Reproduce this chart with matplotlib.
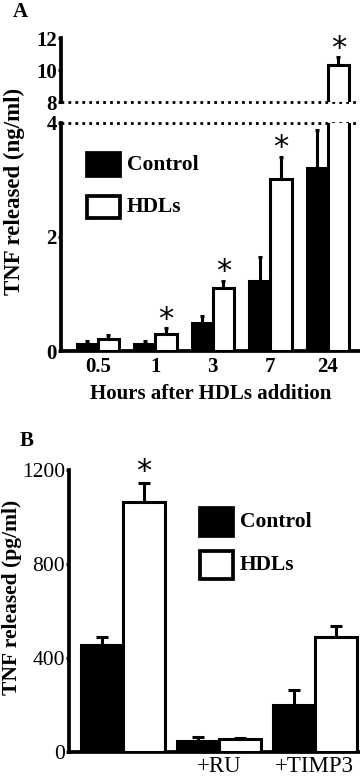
import matplotlib
matplotlib.use('Agg')
import matplotlib.pyplot as plt
import numpy as np
from matplotlib.patches import Rectangle

plt.rcParams['font.family'] = ['Liberation Serif', 'DejaVu Serif']
plt.rcParams['font.weight'] = 'bold'
plt.rcParams['axes.labelweight'] = 'bold'

# ---- Panel A data ----
hours = ['0.5', '1', '3', '7', '24']
a_control = [0.12, 0.12, 0.49, 1.22, 3.21]
a_control_err = [0.06, 0.06, 0.12, 0.43, 0.67]
a_hdl = [0.21, 0.30, 1.10, 3.02, 10.3]
a_hdl_err = [0.07, 0.10, 0.13, 0.39, 0.5]
a_star = [False, True, True, True, True]

# ---- Panel B data ----
b_groups = ['', '+RU', '+TIMP3']
b_control = [455, 45, 200]
b_control_err = [35, 18, 62]
b_hdl = [1065, 55, 490]
b_hdl_err = [78, 5, 45]
b_star = [True, False, False]

W, H = 360, 778
fig = plt.figure(figsize=(W / 100, H / 100), dpi=100)


def ax_rect(x0, y_top, x1, y_bot):
    return [x0 / W, 1 - y_bot / H, (x1 - x0) / W, (y_bot - y_top) / H]


LW = 2.2
bw = 0.37

# Panel A lower and upper axes
axA = fig.add_axes(ax_rect(61, 123, 360, 351))
axU = fig.add_axes(ax_rect(61, 38, 360, 102))
xa = np.arange(len(hours))
for ax, lo, hi in [(axA, 0, 4), (axU, 8, 12)]:
    ax.bar(xa - bw / 2, a_control, bw, color='black', edgecolor='black', linewidth=LW, zorder=3)
    ax.bar(xa + bw / 2, a_hdl, bw, color='white', edgecolor='black', linewidth=LW, zorder=3)
    ax.errorbar(xa - bw / 2, a_control, yerr=[np.zeros(len(xa)), a_control_err], fmt='none',
                ecolor='black', elinewidth=LW, capsize=1.5, capthick=LW, zorder=2)
    ax.errorbar(xa + bw / 2, a_hdl, yerr=[np.zeros(len(xa)), a_hdl_err], fmt='none',
                ecolor='black', elinewidth=LW, capsize=1.5, capthick=LW, zorder=2)
    ax.set_ylim(lo, hi)
    ax.set_xlim(-0.64, 4.56)
    for s in ['top', 'right']:
        ax.spines[s].set_visible(False)
    ax.spines['left'].set_linewidth(LW + 0.5)
    ax.tick_params(axis='y', length=2, width=LW, labelsize=15, pad=1)

axA.spines['bottom'].set_linewidth(LW + 0.5)
axA.set_xticks(xa)
axA.set_xticklabels(hours)
axA.tick_params(axis='x', length=0, labelsize=15, pad=4)
axA.set_yticks([0, 2, 4])
axA.set_yticklabels(['0', '2', '4'])
axA.set_xlabel('Hours after HDLs addition', fontsize=15, labelpad=5)
axA.set_ylabel('TNF released (ng/ml)', fontsize=16.5)
axA.yaxis.set_label_coords(-0.12, 0.70)

axU.spines['bottom'].set_visible(False)
axU.set_xticks([])
axU.set_yticks([8, 10, 12])
axU.set_yticklabels(['8', '10', '12'])
axU.patch.set_alpha(0)

# dotted break lines
axA.axhline(4, color='black', linestyle=(0, (1, 1.5)), linewidth=2, clip_on=False, zorder=1)
axU.axhline(8, color='black', linestyle=(0, (1, 1.5)), linewidth=2, clip_on=False, zorder=1)

# stars A
for i, s in enumerate(a_star):
    if s:
        top = a_hdl[i] + a_hdl_err[i]
        tax = axU if top > 4 else axA
        tax.annotate('*', (xa[i] + bw / 2, top), xytext=(0, -4), textcoords='offset points',
                     ha='center', va='bottom', fontsize=22, fontweight='normal',
                     family=['DejaVu Sans'])

fig.text(13 / W, 1 - 12 / H, 'A', fontsize=15, fontweight='bold', va='center')

# Legend (drawn manually)
def legend_box(x0, y0, x1, y1, fill):
    fig.patches.append(Rectangle((x0 / W, 1 - y1 / H), (x1 - x0) / W, (y1 - y0) / H,
                                 transform=fig.transFigure, facecolor=fill, edgecolor='black',
                                 linewidth=LW + 0.5))

legend_box(87, 153, 120, 176, 'black')
legend_box(87, 196, 120, 218, 'white')
fig.text(127 / W, 1 - 165 / H, 'Control', fontsize=15.5, va='center')
fig.text(127 / W, 1 - 207 / H, 'HDLs', fontsize=15.5, va='center')

# Panel B
axB = fig.add_axes(ax_rect(69, 470, 360, 752))
xb = np.arange(len(b_groups))
bwb = 0.44
axB.bar(xb - bwb / 2, b_control, bwb, color='black', edgecolor='black', linewidth=LW, zorder=3)
axB.bar(xb + bwb / 2, b_hdl, bwb, color='white', edgecolor='black', linewidth=LW, zorder=3)
axB.errorbar(xb - bwb / 2, b_control, yerr=[np.zeros(len(xb)), b_control_err], fmt='none',
             ecolor='black', elinewidth=LW, capsize=4, capthick=LW, zorder=2)
axB.errorbar(xb + bwb / 2, b_hdl, yerr=[np.zeros(len(xb)), b_hdl_err], fmt='none',
             ecolor='black', elinewidth=LW, capsize=4, capthick=LW, zorder=2)
axB.set_ylim(0, 1200)
axB.set_xlim(-0.56, 2.47)
for s in ['top', 'right']:
    axB.spines[s].set_visible(False)
axB.spines['left'].set_linewidth(LW + 0.5)
axB.spines['bottom'].set_linewidth(LW + 0.5)
axB.set_yticks([0, 400, 800, 1200])
axB.set_yticklabels(['0', '400', '800', '1200'], fontweight='normal')
axB.tick_params(axis='y', length=2, width=LW, labelsize=15.5, pad=1)
axB.set_xticks(xb)
axB.set_xticklabels(b_groups, fontweight='normal')
axB.tick_params(axis='x', length=0, labelsize=16.5, pad=3)
axB.set_ylabel('TNF released (pg/ml)', fontsize=15.5)
axB.yaxis.set_label_coords(-0.16, 0.55)

for i, s in enumerate(b_star):
    if s:
        axB.annotate('*', (xb[i] + bwb / 2, b_hdl[i] + b_hdl_err[i]), xytext=(0, -2),
                     textcoords='offset points', ha='center', va='bottom', fontsize=22,
                     fontweight='normal', family=['DejaVu Sans'])

fig.text(20 / W, 1 - 441 / H, 'B', fontsize=15, fontweight='bold', va='center')
legend_box(200, 508, 233, 536, 'black')
legend_box(200, 551, 233, 579, 'white')
fig.text(240 / W, 1 - 522 / H, 'Control', fontsize=15.5, va='center')
fig.text(240 / W, 1 - 565 / H, 'HDLs', fontsize=15.5, va='center')

fig.savefig('out.png', dpi=100)
